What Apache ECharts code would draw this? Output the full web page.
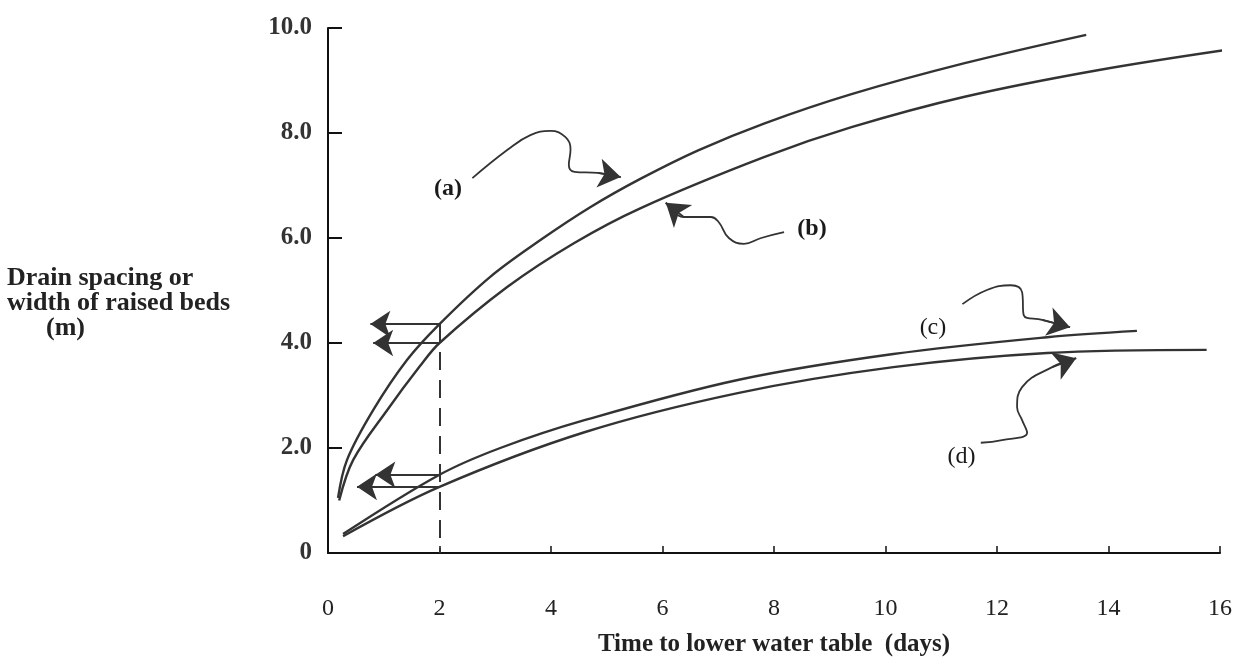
<!DOCTYPE html>
<html>
<head>
<meta charset="utf-8">
<script src="https://cdn.jsdelivr.net/npm/echarts@6/dist/echarts.min.js"></script>
<style>html,body{margin:0;padding:0;background:#fff}#c{width:1243px;height:668px}</style>
</head>
<body>
<div id="c"></div>
<script>
// ---- data ----
const xTickLabels = ['0','2','4','6','8','10','12','14','16'];
const yTickLabels = ['0','2.0','4.0','6.0','8.0','10.0'];

const curveA = [[0.18,1.05],[0.34,1.77],[0.81,2.72],[1.42,3.68],[2.0,4.36],[2.91,5.26],[3.81,5.96],[4.71,6.59],[5.61,7.13],[6.64,7.67],[7.82,8.18],[9.39,8.74],[11.42,9.33],[13.6,9.87]];
const curveB = [[0.2,1.0],[0.45,1.77],[1.06,2.72],[1.65,3.56],[2.0,4.0],[3.22,5.07],[4.41,5.90],[5.61,6.57],[7.82,7.54],[9.39,8.11],[11.42,8.69],[13.83,9.2],[16.35,9.62]];
const curveC = [[0.27,0.36],[2.0,1.49],[3.09,2.0],[4.6,2.53],[7.37,3.30],[10.14,3.79],[12.9,4.11],[14.51,4.23]];
const curveD = [[0.27,0.32],[2.0,1.26],[4.6,2.30],[7.37,3.05],[10.14,3.54],[12.9,3.81],[15.76,3.87]];

// read-off arrows (from x = 2 days towards the y axis)
const readX = 2;
const readValues = [4.36, 4.0, 1.49, 1.26];
const readTips = [0.76, 0.81, 0.85, 0.52];

// curve labels
const labelNames = ['(a)','(b)','(c)','(d)'];
const labelPos = [[2.16,6.93],[8.69,6.17],[10.86,4.29],[11.37,1.83]];

// hand-drawn pointer arrows
const pointerA = [[2.59,7.14],[3.22,7.68],[3.63,7.96],[3.99,8.04],[4.26,7.92],[4.35,7.68],[4.32,7.39],[4.42,7.26],[4.84,7.24],[5.25,7.16]];
const pointerB = [[8.18,6.11],[7.77,6.0],[7.46,5.89],[7.19,6.0],[7.01,6.30],[6.87,6.40],[6.38,6.40],[6.06,6.67]];
const pointerC = [[11.38,4.74],[11.82,5.01],[12.25,5.10],[12.45,4.97],[12.48,4.53],[12.81,4.44],[13.31,4.30]];
const pointerD = [[11.71,2.10],[12.09,2.15],[12.54,2.29],[12.45,2.53],[12.36,2.78],[12.45,3.16],[12.99,3.54],[13.42,3.71]];

// ---- chart ----
const FONT = '"Liberation Serif", "DejaVu Serif", serif';
const INK = '#333';
const chart = echarts.init(document.getElementById('c'), null, {renderer:'canvas'});

function curve(name, data) {
  return {
    name, type: 'line', data, smooth: 0.35, showSymbol: false, symbol: 'none',
    clip: false, lineStyle: {color: INK, width: 2.4}, z: 3, silent: true
  };
}
function pointerBody(name, data) {
  return {
    name, type: 'line', data, smooth: 0.45, showSymbol: false, symbol: 'none',
    clip: false, lineStyle: {color: INK, width: 1.8}, z: 4, silent: true
  };
}

const pointerList = [pointerA, pointerB, pointerC, pointerD];
const readArrows = readValues.map((v, i) => ({coords: [[readX, v], [readTips[i], v]]}));
const pointerHeads = pointerList.map(p => ({coords: [p[p.length - 2], p[p.length - 1]]}));

chart.setOption({
  animation: false,
  backgroundColor: '#fff',
  grid: {left: 328, right: 23, top: 28, bottom: 115, containLabel: false, outerBoundsMode: 'none'},
  xAxis: {
    type: 'value', min: 0, max: 16, interval: 2,
    name: 'Time to lower water table  (days)', nameLocation: 'middle', nameGap: 79,
    nameTextStyle: {fontFamily: FONT, fontSize: 25, fontWeight: 'bold', color: '#222'},
    axisLine: {show: true, onZero: false, lineStyle: {color: '#111', width: 2}},
    axisTick: {show: true, inside: true, length: 7, lineStyle: {color: '#111', width: 1.5}},
    axisLabel: {margin: 44, fontFamily: FONT, fontSize: 24, color: '#222',
      formatter: v => xTickLabels[Math.round(v / 2)]},
    splitLine: {show: false}
  },
  yAxis: {
    type: 'value', min: 0, max: 10, interval: 2,
    name: '\nDrain spacing or\nwidth of raised beds\n      (m)', nameLocation: 'middle', nameRotate: 0, nameGap: 321,
    nameTextStyle: {fontFamily: FONT, fontSize: 26, fontWeight: 'bold', color: '#222', align: 'left',
      lineHeight: 25},
    axisLine: {show: true, onZero: false, lineStyle: {color: '#111', width: 2}},
    axisTick: {show: true, inside: true, length: 14, lineStyle: {color: '#111', width: 2}},
    axisLabel: {margin: 16, fontFamily: FONT, fontSize: 25, fontWeight: 'bold', color: '#333',
      formatter: v => yTickLabels[Math.round(v / 2)]},
    splitLine: {show: false}
  },
  series: [
    curve('a', curveA),
    curve('b', curveB),
    curve('c', curveC),
    curve('d', curveD),
    pointerBody('pa', pointerA),
    pointerBody('pb', pointerB),
    pointerBody('pc', pointerC),
    pointerBody('pd', pointerD),
    {
      name: 'read-off', type: 'lines', coordinateSystem: 'cartesian2d', data: readArrows,
      symbol: ['none', 'arrow'], symbolSize: [14, 20],
      lineStyle: {color: INK, width: 2, opacity: 1}, z: 4, silent: true
    },
    {
      name: 'pointer heads', type: 'lines', coordinateSystem: 'cartesian2d', data: pointerHeads,
      symbol: ['none', 'arrow'], symbolSize: [16, 22],
      lineStyle: {color: INK, width: 1.8, opacity: 1}, z: 4, silent: true
    },
    {
      name: 'guide', type: 'lines', coordinateSystem: 'cartesian2d',
      data: [{coords: [[readX, readValues[0]], [readX, 0]]}],
      symbol: 'none', lineStyle: {color: INK, width: 2, type: [18, 10], opacity: 1}, z: 2, silent: true
    },
    {
      name: 'labels', type: 'scatter', symbolSize: 1, silent: true, z: 5,
      itemStyle: {color: '#fff', opacity: 1},
      data: labelNames.map((n, i) => ({
        name: n, value: labelPos[i],
        label: {show: true, position: [0, 0], align: 'center', verticalAlign: 'middle', formatter: '{b}',
          fontFamily: FONT, fontSize: 24, fontWeight: i < 2 ? 'bold' : 'normal', color: '#1a1a1a',
          textBorderWidth: 0}
      }))
    }
  ]
});
</script>
</body>
</html>
